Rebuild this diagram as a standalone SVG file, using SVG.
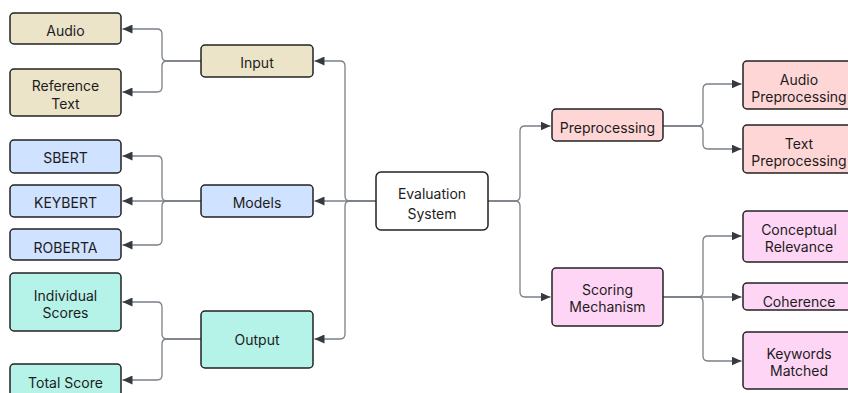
<svg xmlns="http://www.w3.org/2000/svg" width="848" height="393" viewBox="0 0 848 393">
<style>
.n rect{stroke:#222;stroke-width:1.5}
.n text{font-family:Inter,"Liberation Sans",sans-serif;font-size:14px;fill:#1c1c1c;text-anchor:middle;dominant-baseline:central}
.beige{fill:#ece4c9}
.blue{fill:#cfe2ff}
.teal{fill:#b5f3e9}
.pink{fill:#ffd6d6}
.mag{fill:#ffd5f6}
#edges path{fill:none;stroke:#7b8088;stroke-width:1.3;marker-end:url(#ah)}
</style>
<defs>
<marker id="ah" markerUnits="userSpaceOnUse" markerWidth="11" markerHeight="9" refX="10" refY="4.5" orient="auto">
<path d="M0,0 L10,4.5 L0,9 z" fill="#353a42"/>
</marker>
</defs>
<rect width="848" height="393" fill="#fff"/>
<g id="edges">
<path d="M376,201 H350 Q345,201 345,196 V66 Q345,61 340,61 H314.5"/>
<path d="M376,201 H314.5"/>
<path d="M376,201 H350 Q345,201 345,206 V334 Q345,339 340,339 H314.5"/>
<path d="M201,61 H167 Q162,61 162,56 V34 Q162,29 157,29 H122.5"/>
<path d="M201,61 H167 Q162,61 162,66 V87 Q162,92 157,92 H122.5"/>
<path d="M201,201 H167 Q162,201 162,196 V161 Q162,156 157,156 H122.5"/>
<path d="M201,201 H122.5"/>
<path d="M201,201 H167 Q162,201 162,206 V240 Q162,245 157,245 H122.5"/>
<path d="M201,339 H167 Q162,339 162,334 V307 Q162,302 157,302 H122.5"/>
<path d="M201,339 H167 Q162,339 162,344 V375 Q162,380 157,380 H122.5"/>
<path d="M488,201 H515 Q520,201 520,196 V131 Q520,126 525,126 H550.5"/>
<path d="M488,201 H515 Q520,201 520,206 V292 Q520,297 525,297 H550.5"/>
<path d="M663,126 H698 Q703,126 703,121 V89 Q703,84 708,84 H741.5"/>
<path d="M663,126 H698 Q703,126 703,131 V144 Q703,149 708,149 H741.5"/>
<path d="M663,297 H698 Q703,297 703,292 V241 Q703,236 708,236 H741.5"/>
<path d="M663,297 H741.5"/>
<path d="M663,297 H698 Q703,297 703,302 V356 Q703,361 708,361 H741.5"/>
</g>
<g id="eval" class="n"><rect x="376" y="172" width="112" height="58" rx="5" fill="#fff"/><text x="432" y="193">Evaluation</text><text x="432" y="213">System</text></g>
<g id="input" class="n"><rect class="beige" x="201" y="45" width="112" height="32" rx="4"/><text x="257" y="62">Input</text></g>
<g id="models" class="n"><rect class="blue" x="201" y="185" width="112" height="32" rx="4"/><text x="257" y="202">Models</text></g>
<g id="output" class="n"><rect class="teal" x="201" y="311" width="112" height="57" rx="4"/><text x="257" y="339">Output</text></g>
<g id="audio" class="n"><rect class="beige" x="10" y="13" width="111" height="31" rx="4"/><text x="65.5" y="30">Audio</text></g>
<g id="reftext" class="n"><rect class="beige" x="10" y="69" width="111" height="47" rx="4"/><text x="65.5" y="85">Reference</text><text x="65.5" y="103">Text</text></g>
<g id="sbert" class="n"><rect class="blue" x="10" y="140" width="111" height="33" rx="4"/><text x="65.5" y="157">SBERT</text></g>
<g id="keybert" class="n"><rect class="blue" x="10" y="185" width="111" height="32" rx="4"/><text x="65.5" y="202">KEYBERT</text></g>
<g id="roberta" class="n"><rect class="blue" x="10" y="229" width="111" height="31" rx="4"/><text x="65.5" y="247">ROBERTA</text></g>
<g id="indiv" class="n"><rect class="teal" x="10" y="273" width="111" height="58" rx="4"/><text x="65.5" y="295">Individual</text><text x="65.5" y="312">Scores</text></g>
<g id="total" class="n"><rect class="teal" x="10" y="364" width="111" height="34" rx="4"/><text x="65.5" y="382">Total Score</text></g>
<g id="preproc" class="n"><rect class="pink" x="552" y="109" width="111" height="32" rx="4"/><text x="607.5" y="127">Preprocessing</text></g>
<g id="scoring" class="n"><rect class="mag" x="552" y="268" width="111" height="58" rx="4"/><text x="607.5" y="289">Scoring</text><text x="607.5" y="306">Mechanism</text></g>
<g id="audiopre" class="n"><rect class="pink" x="743" y="61" width="112" height="48" rx="4"/><text x="799" y="79">Audio</text><text x="799" y="96">Preprocessing</text></g>
<g id="textpre" class="n"><rect class="pink" x="743" y="125" width="112" height="48" rx="4"/><text x="799" y="143">Text</text><text x="799" y="160">Preprocessing</text></g>
<g id="concept" class="n"><rect class="mag" x="743" y="211" width="112" height="51" rx="4"/><text x="799" y="229">Conceptual</text><text x="799" y="246">Relevance</text></g>
<g id="coherence" class="n"><rect class="mag" x="743" y="283" width="112" height="27" rx="4"/><text x="799" y="301">Coherence</text></g>
<g id="keywords" class="n"><rect class="mag" x="743" y="332" width="112" height="57" rx="4"/><text x="799" y="353">Keywords</text><text x="799" y="370">Matched</text></g>
</svg>
